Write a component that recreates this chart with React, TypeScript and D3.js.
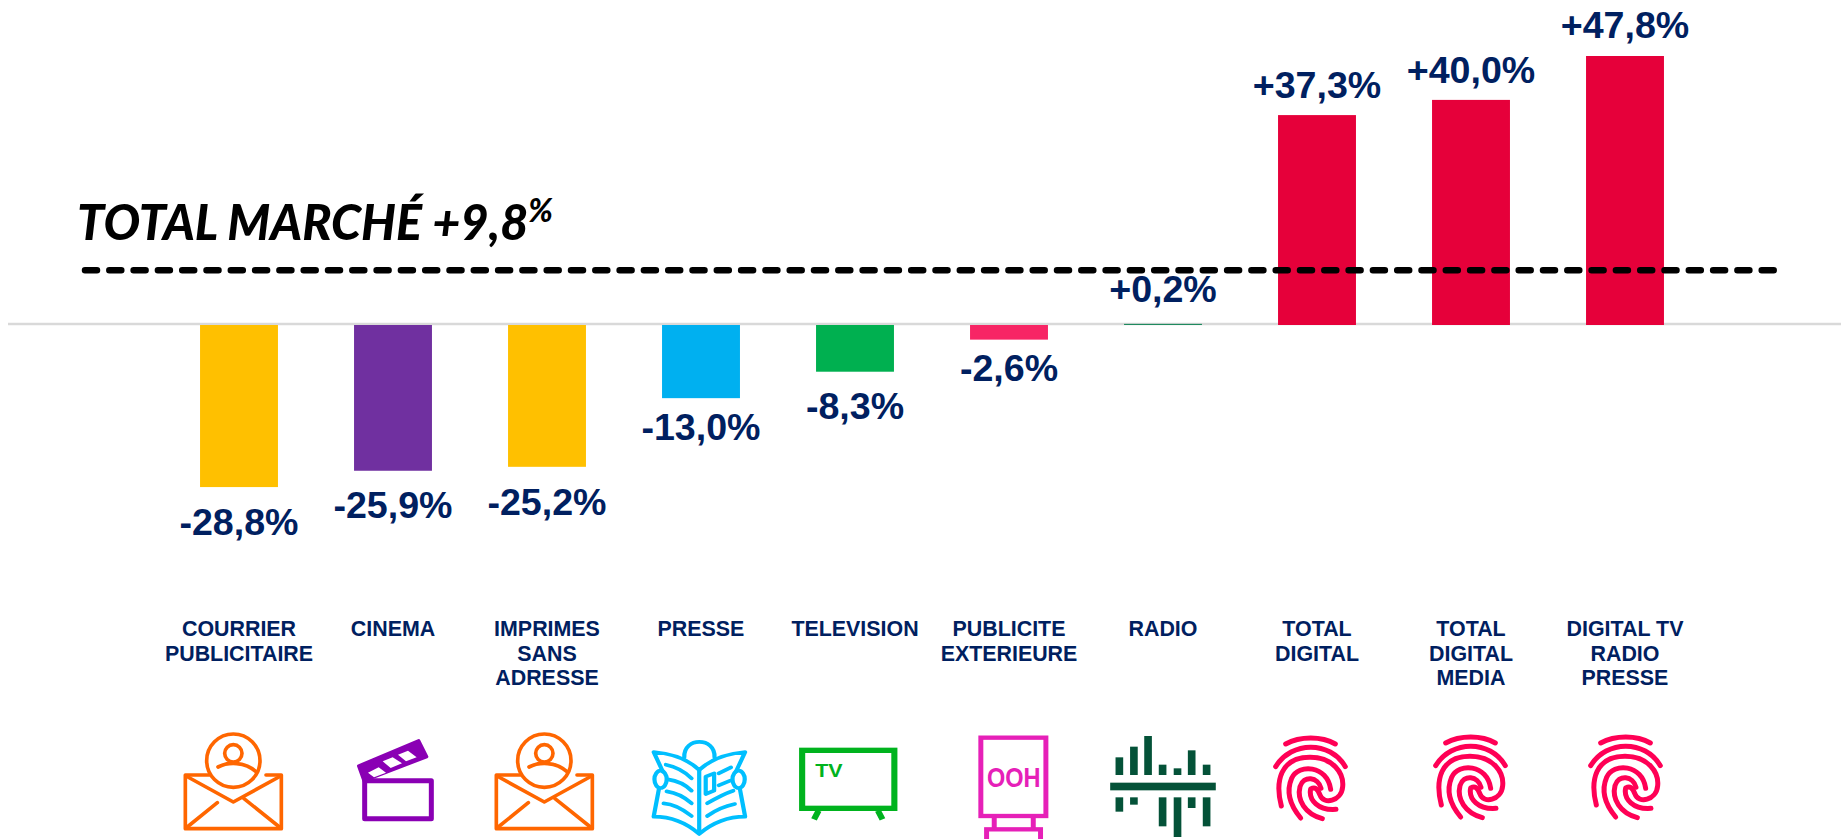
import React from "react";
import * as d3 from "d3";

const categories = ["COURRIER PUBLICITAIRE", "CINEMA", "IMPRIMES SANS ADRESSE", "PRESSE", "TELEVISION", "PUBLICITE EXTERIEURE", "RADIO", "TOTAL DIGITAL", "TOTAL DIGITAL MEDIA", "DIGITAL TV RADIO PRESSE"];
const labelLines = [["COURRIER", "PUBLICITAIRE"], ["CINEMA"], ["IMPRIMES", "SANS", "ADRESSE"], ["PRESSE"], ["TELEVISION"], ["PUBLICITE", "EXTERIEURE"], ["RADIO"], ["TOTAL", "DIGITAL"], ["TOTAL", "DIGITAL", "MEDIA"], ["DIGITAL TV", "RADIO", "PRESSE"]];
const values = [-28.8, -25.9, -25.2, -13.0, -8.3, -2.6, 0.2, 37.3, 40.0, 47.8];
const valueLabels = ["-28,8%", "-25,9%", "-25,2%", "-13,0%", "-8,3%", "-2,6%", "+0,2%", "+37,3%", "+40,0%", "+47,8%"];
const barColors = ["#FFC000", "#7030A0", "#FFC000", "#00B0F0", "#00B050", "#F72565", "#1F8A5F", "#E6003A", "#E6003A", "#E6003A"];
const labelGaps = [48, 47, 48, 42, 47, 41, 22, 17, 17, 18];
const totalMarket = 9.8;

const NAVY = "#002060";
const y = d3.scaleLinear().domain([0, 47.8]).range([325, 56]);
const x = d3.scaleBand<string>().domain(categories).range([162, 1702]).paddingInner(0.494).paddingOuter(0.247);

const line = { fill: "none", strokeLinecap: "round", strokeLinejoin: "round" } as const;
const WIDE = `scale(${600 / 1568},${1 / 3})`;

function Envelope({ ox }: { ox: number }) {
  const c = "#FF6600";
  return (
    <g transform={`translate(${ox},720) scale(${1 / 3})`} stroke={c} {...line} strokeWidth={11}>
      <circle cx={250} cy={122} r={80} />
      <circle cx={250} cy={100} r={26} />
      <path d="M204,141 C235,125 285,125 318,155" />
      <path d="M178,165 H106 V326 H394 V165 H348" />
      <path d="M108,168 L250,246 L392,168" />
      <path d="M108,324 L202,248 M282,236 L392,324" />
    </g>
  );
}

function Clapper({ ox }: { ox: number }) {
  const c = "#8A00B4";
  return (
    <g transform={`translate(${ox},720) scale(${1 / 3})`}>
      <rect x={644} y={182} width={200} height={114} fill="none" stroke={c} strokeWidth={15} strokeLinejoin="round" />
      <path d="M626,138 L806,62 L830,110 L642,182 Z" fill={c} stroke={c} strokeWidth={10} strokeLinejoin="round" />
      <path d="M654,158 L686,142 L708,158 L672,172 Z M698,124 L728,112 L756,130 L722,144 Z M744,104 L774,92 L800,112 L768,124 Z" fill="#fff" />
    </g>
  );
}

function Newspaper({ ox }: { ox: number }) {
  const c = "#00BFFF";
  return (
    <g transform={`translate(${ox},720) ${WIDE}`} stroke={c} {...line} strokeWidth={11}>
      <path d="M168,112 C165,50 250,50 247,112" />
      <path d="M207,150 C175,115 130,100 88,96 L112,155 M207,150 C240,115 285,100 327,96 L303,155" />
      <path d="M207,150 V342 M207,342 C170,305 130,290 88,290 L102,205 M207,342 C245,305 285,290 327,290 L313,205" />
      <ellipse cx={106} cy={178} rx={16} ry={26} />
      <ellipse cx={310} cy={178} rx={16} ry={26} />
      <path d="M120,134 C145,140 170,155 187,175 M125,178 C150,182 172,195 187,212 M122,214 C145,218 170,232 187,250 M114,250 C140,252 165,268 187,288" />
      <path d="M258,160 L290,142 M258,196 L288,182 M228,250 C250,235 275,220 296,212 M228,288 C250,270 275,258 300,252" />
      <path d="M224,170 L246,160 V212 L224,222 Z" />
    </g>
  );
}

function Tv({ ox }: { ox: number }) {
  const c = "#00B31E";
  return (
    <g transform={`translate(${ox},720) ${WIDE}`}>
      <rect x={476} y={91} width={241} height={174} fill="none" stroke={c} strokeWidth={16} />
      <path d="M519,272 L507,298 M674,272 L686,298" stroke={c} strokeWidth={16} fill="none" />
      <text x={510} y={171} fontFamily="'Liberation Sans'" fontWeight={700} fontSize={56} fill={c}>TV</text>
    </g>
  );
}

function Ooh({ ox }: { ox: number }) {
  const c = "#E620B8";
  return (
    <g transform={`translate(${ox},720) ${WIDE}`}>
      <rect x={943} y={53} width={170} height={235} fill="none" stroke={c} strokeWidth={13} />
      <path d="M978,292 V326 M1080,292 V326" stroke={c} strokeWidth={13} />
      <rect x={958} y={328} width={141} height={40} fill="none" stroke={c} strokeWidth={13} />
      <text x={1029} y={200} textAnchor="middle" fontFamily="'Liberation Sans'" fontWeight={700} fontSize={84} fill={c} textLength={140} lengthAdjust="spacingAndGlyphs">OOH</text>
    </g>
  );
}

const radioBarsUp: [number, number, number][] = [[1305, 112, 165], [1343, 80, 165], [1380, 48, 165], [1418, 134, 165], [1457, 145, 165], [1494, 91, 165], [1533, 134, 165]];
const radioBarsDown: [number, number, number][] = [[1305, 232, 275], [1343, 232, 254], [1418, 232, 319], [1457, 232, 351], [1494, 232, 264], [1533, 232, 319]];

function RadioIcon({ ox }: { ox: number }) {
  const c = "#045238";
  return (
    <g transform={`translate(${ox},720) ${WIDE}`} fill={c}>
      {radioBarsUp.concat(radioBarsDown).map(([cx, a, b], i) => (
        <rect key={i} x={cx - 10} y={a} width={20} height={b - a} />
      ))}
      <rect x={1281} y={188} width={276} height={23} />
    </g>
  );
}

function Fingerprint({ ox, oy }: { ox: number; oy: number }) {
  const c = "#FF0055";
  return (
    <g transform={`translate(${ox},${oy}) scale(${1 / 3})`} stroke={c} {...line} strokeWidth={15}>
      <path d="M137,72 C180,48 245,48 286,72" />
      <path d="M107,140 C155,62 270,62 316,140" />
      <path d="M124,258 C105,185 120,112 210,112 C280,112 312,160 308,200 C304,245 250,255 240,225 C232,205 225,200 212,207 C205,240 235,272 288,268" />
      <path d="M182,294 C145,250 140,210 155,175 C175,130 262,135 272,208" />
      <path d="M247,296 C195,282 170,240 180,200 C190,165 235,170 243,205" />
    </g>
  );
}

export default function App() {
  return (
    <svg width={1841} height={839} style={{ position: "absolute", left: 0, top: 0, background: "#fff" }}>
      <line x1={8} x2={1841} y1={y(0) - 1} y2={y(0) - 1} stroke="#D9D9D9" strokeWidth={2.5} />
      {categories.map((c, i) => {
        const v = values[i];
        const top = y(Math.max(v, 0));
        const bottom = y(Math.min(v, 0));
        const cx = x(c)! + x.bandwidth() / 2;
        return (
          <g key={c}>
            <rect x={x(c)} y={top} width={x.bandwidth()} height={bottom - top} fill={barColors[i]} />
            <text x={cx} y={v >= 0 ? top - labelGaps[i] : bottom + labelGaps[i]} textAnchor="middle" fontFamily="'Liberation Sans'" fontWeight={700} fontSize={37.6} fill={NAVY}>{valueLabels[i]}</text>
            <text textAnchor="middle" fontFamily="'Liberation Sans'" fontWeight={700} fontSize={21.4} fill={NAVY}>
              {labelLines[i].map((l, j) => (
                <tspan key={j} x={cx} y={636 + j * 24.5}>{l}</tspan>
              ))}
            </text>
          </g>
        );
      })}
      <line x1={85} x2={1778} y1={y(totalMarket) + 0.5} y2={y(totalMarket) + 0.5} stroke="#000" strokeWidth={6.5} strokeDasharray="12 12.3" strokeLinecap="round" />
      <text x={77} y={240} fontFamily="Lato" fontStyle="italic" fontWeight={900} fontSize={48.5} fill="#000">
        TOTAL MARCHÉ +9,8<tspan fontSize={32} dy={-18}>%</tspan>
      </text>
      <Envelope ox={150} />
      <Clapper ox={150} />
      <Envelope ox={150 + 311} />
      <Newspaper ox={620} />
      <Tv ox={620} />
      <Ooh ox={620} />
      <RadioIcon ox={620} />
      <Fingerprint ox={1240} oy={720} />
      <Fingerprint ox={1400} oy={719} />
      <Fingerprint ox={1555} oy={719} />
    </svg>
  );
}
